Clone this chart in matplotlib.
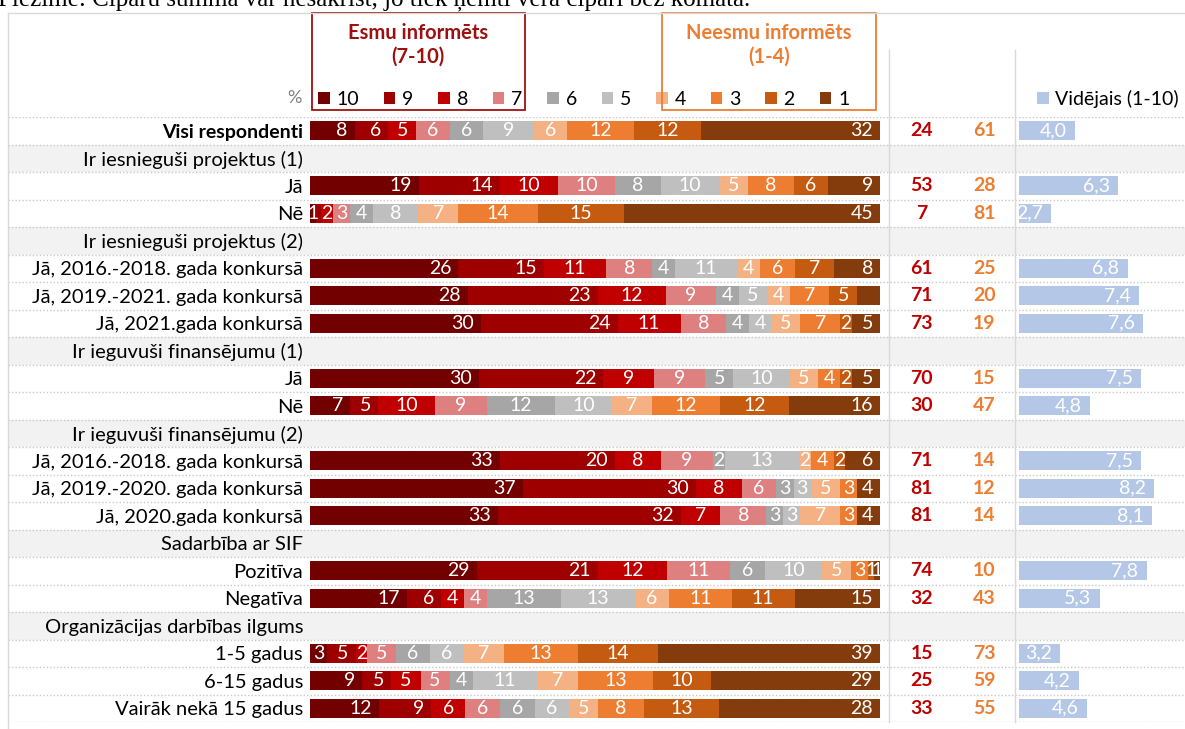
import numpy as np
import matplotlib.pyplot as plt
from matplotlib.lines import Line2D
from matplotlib.patches import Rectangle

plt.rcParams['font.family'] = ['Lato', 'DejaVu Sans']

row_labels = ["Visi respondenti",
              "Ir iesnieguši projektus (1)", "Jā", "Nē",
              "Ir iesnieguši projektus (2)",
              "Jā, 2016.-2018. gada konkursā", "Jā, 2019.-2021. gada konkursā", "Jā, 2021.gada konkursā",
              "Ir ieguvuši finansējumu (1)", "Jā", "Nē",
              "Ir ieguvuši finansējumu (2)",
              "Jā, 2016.-2018. gada konkursā", "Jā, 2019.-2020. gada konkursā", "Jā, 2020.gada konkursā",
              "Sadarbība ar SIF", "Pozitīva", "Negatīva",
              "Organizācijas darbības ilgums", "1-5 gadus", "6-15 gadus", "Vairāk nekā 15 gadus"]
group_rows = [1, 4, 8, 11, 15, 18]

scores = ['10', '9', '8', '7', '6', '5', '4', '3', '2', '1']
# shares per answered row, columns = scores 10..1
shares = [
    [8, 6, 5, 6, 6, 9, 6, 12, 12, 32],
    [19, 14, 10, 10, 8, 10, 5, 8, 6, 9],
    [1, 1, 2, 3, 4, 8, 7, 14, 15, 45],
    [26, 15, 11, 8, 4, 11, 4, 6, 7, 8],
    [28, 23, 12, 9, 4, 5, 4, 7, 5, 4],
    [30, 24, 11, 8, 4, 4, 5, 7, 2, 5],
    [30, 22, 9, 9, 5, 10, 5, 4, 2, 5],
    [7, 5, 10, 9, 12, 10, 7, 12, 12, 16],
    [33, 20, 8, 9, 2, 13, 2, 4, 2, 6],
    [37, 30, 8, 6, 3, 3, 5, 3, 0, 4],
    [33, 32, 7, 8, 3, 3, 7, 3, 0, 4],
    [29, 21, 12, 11, 6, 10, 5, 3, 1, 1],
    [17, 6, 4, 4, 13, 13, 6, 11, 11, 15],
    [3, 5, 2, 5, 6, 6, 7, 13, 14, 39],
    [9, 5, 5, 5, 4, 11, 7, 13, 10, 29],
    [12, 9, 6, 6, 6, 6, 5, 8, 13, 28],
]
informed = [24, 53, 7, 61, 71, 73, 70, 30, 71, 81, 81, 74, 32, 15, 25, 33]
not_informed = [61, 28, 81, 25, 20, 19, 15, 47, 14, 12, 14, 10, 43, 73, 59, 55]
average = [4.0, 6.3, 2.7, 6.8, 7.4, 7.6, 7.5, 4.8, 7.5, 8.2, 8.1, 7.8, 5.3, 3.2, 4.2, 4.6]
hidden_labels = [(2, 1), (4, 9)]

colors = ['#720000', '#9E0000', '#C00000', '#DF8080', '#A6A6A6', '#BFBFBF',
          '#F4B183', '#ED7D31', '#C55A11', '#843C0C']
label_at_end = [True, True, False, False, False, False, False, False, False, True]

W, H = 1185, 729
fig = plt.figure(figsize=(W / 100, H / 100), dpi=100)


def fax(x0, x1, y0, y1):
    return fig.add_axes([x0 / W, 1 - y1 / H, (x1 - x0) / W, (y1 - y0) / H])


n = len(row_labels)
data_rows = [i for i in range(n) if i not in group_rows]
y = np.array(data_rows)
vals = np.array(shares, dtype=float)
pct = vals / vals.sum(axis=1, keepdims=True) * 100

# background bands and dotted separators
bg = fax(8, 1185, 117, 722)
bg.set_xlim(0, 1)
bg.set_ylim(n - 0.5, -0.5)
for g in group_rows:
    bg.axhspan(g - 0.5, g + 0.5, color='#F2F2F2', lw=0)
for k in range(n + 1):
    bg.axhline(k - 0.5, color='#C8C8C8', lw=1, ls=(0, (1, 1.5)))
bg.axis('off')

# frame and column separators
fig.add_artist(Line2D([8 / W, 1], [1 - 13 / H] * 2, color='#D9D9D9', lw=1))
fig.add_artist(Line2D([8 / W] * 2, [1 - 13 / H, 0], color='#D9D9D9', lw=1))
for xv in (889, 1015):
    fig.add_artist(Line2D([xv / W] * 2, [1 - 50 / H, 1 - 722 / H], color='#D9D9D9', lw=1))

# stacked bars
ax = fax(310, 880, 117, 722)
ax.set_xlim(0, 100)
ax.set_ylim(n - 0.5, -0.5)
left = np.zeros(len(y))
handles = []
for j in range(10):
    b = ax.barh(y, pct[:, j], left=left, height=0.68, color=colors[j], lw=0, label=scores[j])
    handles.append(b)
    for r in range(len(y)):
        v = int(vals[r, j])
        if v == 0 or (r, j) in hidden_labels:
            continue
        if label_at_end[j] and pct[r, j] > 3:
            ax.annotate(str(v), (left[r] + pct[r, j], y[r]), xytext=(-5, 0), textcoords='offset points',
                        ha='right', va='center', color='white', fontsize=14)
        else:
            ax.text(left[r] + pct[r, j] / 2, y[r], str(v), ha='center', va='center',
                    color='white', fontsize=14)
    left += pct[:, j]
ax.set_yticks(range(n))
ax.set_yticklabels(row_labels, fontsize=14.5)
ax.get_yticklabels()[0].set_fontweight('bold')
ax.get_yticklabels()[0].set_fontsize(14)
ax.tick_params(axis='y', length=0, pad=5)
ax.set_xticks([])
for s in ax.spines.values():
    s.set_visible(False)
ax.patch.set_visible(False)

ax.legend(handles=handles, ncol=10, loc='lower left', bbox_to_anchor=(318 / W, 1 - 108 / H),
          bbox_transform=fig.transFigure, frameon=False, fontsize=14, handlelength=0.6,
          handleheight=0.6, handletextpad=0.35, columnspacing=1.27, borderpad=0, borderaxespad=0)
fig.text(302 / W, 1 - 98 / H, '%', ha='right', va='center', color='#808080', fontsize=13)

# group header boxes
fig.add_artist(Rectangle((312 / W, 1 - 110 / H), 213 / W, 97 / H, transform=fig.transFigure,
                         fill=False, ec='#A01010', lw=1.3))
fig.add_artist(Rectangle((662 / W, 1 - 110 / H), 214 / W, 97 / H, transform=fig.transFigure,
                         fill=False, ec='#ED7D31', lw=1.3))
fig.text(418 / W, 1 - 45 / H, 'Esmu informēts\n(7-10)', ha='center', va='center', color='#9E1010',
         fontsize=14.5, fontweight='bold', linespacing=1.25)
fig.text(769 / W, 1 - 45 / H, 'Neesmu informēts\n(1-4)', ha='center', va='center', color='#ED7D31',
         fontsize=14.5, fontweight='bold', linespacing=1.25)

# informed / not informed totals
axn = fax(889, 1015, 117, 722)
axn.set_xlim(0, 1)
axn.set_ylim(n - 0.5, -0.5)
for r in range(len(y)):
    axn.text(0.26, y[r], str(informed[r]), ha='center', va='center', color='#C00000',
             fontsize=14, fontweight='bold')
    axn.text(0.755, y[r], str(not_informed[r]), ha='center', va='center', color='#ED7D31',
             fontsize=14, fontweight='bold')
axn.axis('off')

# averages
axa = fax(1019, 1185, 117, 722)
axa.set_xlim(1, 9.85)
axa.set_ylim(n - 0.5, -0.5)
ab = axa.barh(y, np.array(average) - 1, left=1, height=0.68, color='#B4C7E7', lw=0,
              label='Vidējais (1-10)')
for r in range(len(y)):
    axa.annotate(f'{average[r]:.1f}'.replace('.', ','), (average[r], y[r]), xytext=(-6, 0),
                 textcoords='offset points', ha='right', va='center', color='white', fontsize=14)
axa.axis('off')
axa.legend(handles=[ab], loc='lower left', bbox_to_anchor=(1037 / W, 1 - 108 / H),
           bbox_transform=fig.transFigure, frameon=False, fontsize=14, handlelength=0.6,
           handleheight=0.6, handletextpad=0.35, borderpad=0, borderaxespad=0)

fig.text(-2 / W, 1 - 5 / H, 'Piezīme: Ciparu summa var nesakrist, jo tiek ņemti vērā cipari bez komata.',
         ha='left', va='baseline', fontsize=18, family='Liberation Serif')

fig.savefig('out.png', dpi=100)
